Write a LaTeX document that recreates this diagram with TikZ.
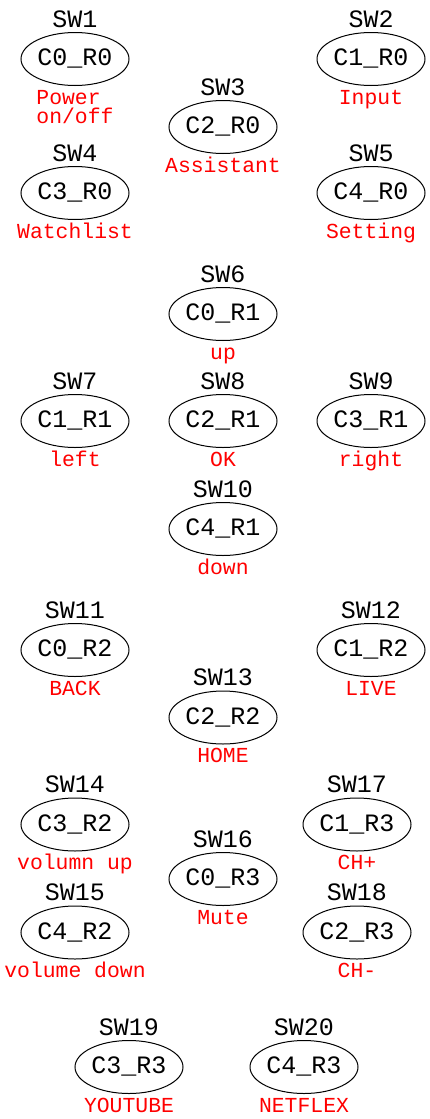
\documentclass[tikz,border=0pt]{standalone}
\usepackage{fontspec}
\setmainfont{Liberation Mono}
\usetikzlibrary{shapes.geometric}
\tikzset{
  swell/.style={ellipse, draw, line width=1pt, minimum width=108pt, minimum height=53pt,
    inner sep=0pt, font=\fontsize{25}{30}\selectfont, text height=13.5pt, text depth=0pt},
  swname/.style={anchor=base, inner sep=0pt, font=\fontsize{25}{30}\selectfont},
  swfunc/.style={anchor=base, inner sep=0pt, text=red, font=\fontsize{21.4}{19}\selectfont},
}
\newcommand\swnode[6]{%
  \node[swell] (#3) at (#1,#2) {#5};
  \node[swname] (#3n) at (#1,#2-32) {#4};
  \node[swfunc] (#3f) at (#1,#2+45) {#6};
}
\begin{document}
\begin{tikzpicture}[x=1pt,y=-1pt]
\useasboundingbox (0,0) rectangle (429,1119);
% row 0
\node[swell] (sw1) at (75,59) {C0\_R0};
\node[swname] (sw1n) at (75,59-32) {SW1};
\node[swfunc, align=left] (sw1f) at (75,59+64) {Power\\on/off};
\swnode{371}{59}{sw2}{SW2}{C1\_R0}{Input}
\swnode{223}{127}{sw3}{SW3}{C2\_R0}{Assistant}
\swnode{75}{193}{sw4}{SW4}{C3\_R0}{Watchlist}
\swnode{371}{193}{sw5}{SW5}{C4\_R0}{Setting}
% row 1
\swnode{223}{314}{sw6}{SW6}{C0\_R1}{up}
\swnode{75}{421}{sw7}{SW7}{C1\_R1}{left}
\swnode{223}{421}{sw8}{SW8}{C2\_R1}{OK}
\swnode{371}{421}{sw9}{SW9}{C3\_R1}{right}
\swnode{223}{529}{sw10}{SW10}{C4\_R1}{down}
% row 2
\swnode{75}{650}{sw11}{SW11}{C0\_R2}{BACK}
\swnode{371}{650}{sw12}{SW12}{C1\_R2}{LIVE}
\swnode{223}{717.5}{sw13}{SW13}{C2\_R2}{HOME}
\swnode{75}{824.5}{sw14}{SW14}{C3\_R2}{volumn up}
\swnode{75}{932.5}{sw15}{SW15}{C4\_R2}{volume down}
% row 3
\swnode{223}{879}{sw16}{SW16}{C0\_R3}{Mute}
\swnode{357}{824.5}{sw17}{SW17}{C1\_R3}{CH+}
\swnode{357}{932.5}{sw18}{SW18}{C2\_R3}{CH-}
\swnode{129}{1067}{sw19}{SW19}{C3\_R3}{YOUTUBE}
\swnode{304}{1067}{sw20}{SW20}{C4\_R3}{NETFLEX}
\end{tikzpicture}
\end{document}
